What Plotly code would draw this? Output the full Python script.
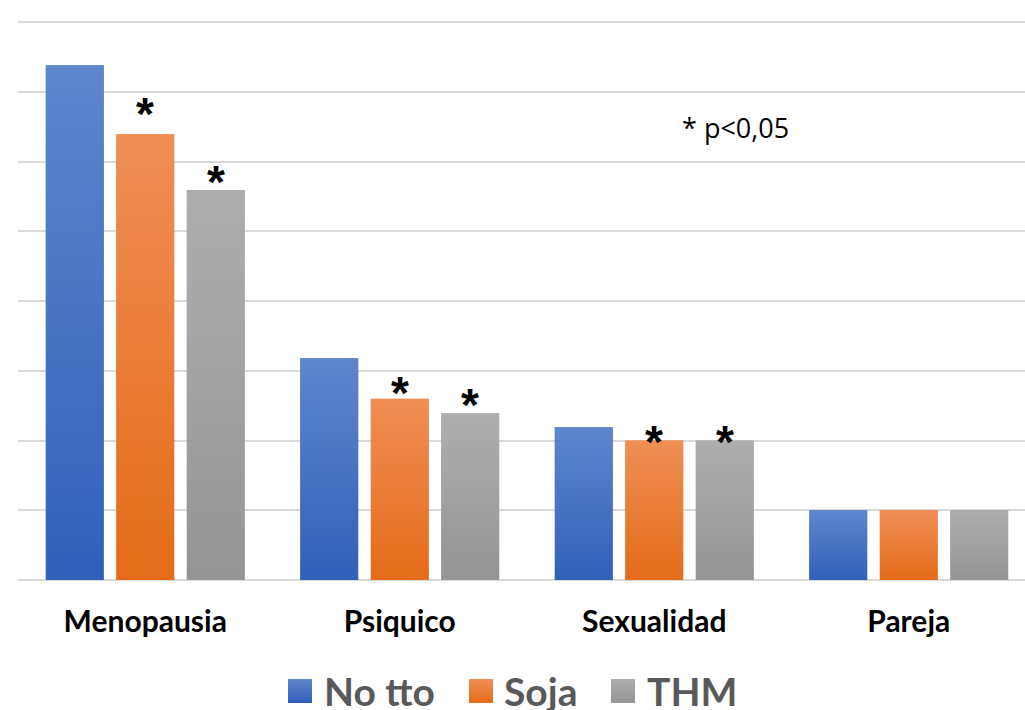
import base64
import plotly.graph_objects as go

# ---------------- data ----------------
categories = ["Menopausia", "Psiquico", "Sexualidad", "Pareja"]
series_names = ["No tto", "Soja", "THM"]
no_tto = [7.38, 3.18, 2.19, 1.00]
soja = [6.39, 2.60, 2.00, 1.00]
thm = [5.59, 2.39, 2.00, 1.00]
# significance (p<0,05) flags per series
sig_no_tto = [False, False, False, False]
sig_soja = [True, True, True, False]
sig_thm = [True, True, True, False]
note_text = "* p<0,05"

# ---------------- styles ----------------
colors = ["#4472C4", "#ED7D31", "#A5A5A5"]
grad_top = ["#5F86CD", "#F08E55", "#AEAEAE"]
grad_bot = ["#2F60BA", "#E46C19", "#959595"]
centers = [-0.277, 0.0, 0.277]
bar_w = 0.228
W, H = 1025, 710
ML, MR, MT, MB = 18, 0, 20, 130
PLOT_H = H - MT - MB
px_per_unit = 69.75
y_top = PLOT_H / px_per_unit
px_per_cat = 254.5
x_right = -0.5 + (W - ML - MR) / px_per_cat
# asterisk vertical shift (px) per series/category
star_shift = {
    1: [20, 6, -1],
    2: [8, 8, -1],
}


def grad_uri(top, bot):
    svg = ("<svg xmlns='http://www.w3.org/2000/svg' width='10' height='100' "
           "preserveAspectRatio='none' viewBox='0 0 10 100'>"
           "<defs><linearGradient id='g' x1='0' y1='0' x2='0' y2='1'>"
           f"<stop offset='0' stop-color='{top}'/><stop offset='1' stop-color='{bot}'/>"
           "</linearGradient></defs><rect width='10' height='100' fill='url(#g)'/></svg>")
    return "data:image/svg+xml;base64," + base64.b64encode(svg.encode()).decode()


series_vals = [no_tto, soja, thm]
series_sig = [sig_no_tto, sig_soja, sig_thm]

fig = go.Figure()
images = []
for k, (name, vals) in enumerate(zip(series_names, series_vals)):
    fig.add_trace(go.Bar(
        x=categories, y=vals, name=name,
        marker=dict(color=colors[k], line=dict(width=0)),
        width=bar_w, offset=centers[k] - bar_w / 2,
        showlegend=False,
    ))
    src = grad_uri(grad_top[k], grad_bot[k])
    for i, v in enumerate(vals):
        images.append(dict(
            source=src, xref="x", yref="y",
            x=i + centers[k] - bar_w / 2, y=v, sizex=bar_w, sizey=v,
            xanchor="left", yanchor="top", sizing="stretch", layer="above",
        ))

annotations = []
for k in range(3):
    for i, flag in enumerate(series_sig[k]):
        if flag:
            annotations.append(dict(
                x=i + centers[k], y=series_vals[k][i], xref="x", yref="y",
                text="<b>*</b>", showarrow=False, yanchor="middle",
                yshift=star_shift[k][i],
                font=dict(family="Liberation Sans", size=46, color="#000000"),
            ))

pw = W - ML - MR


def py(px_y):
    return (H - MB - px_y) / PLOT_H


annotations.append(dict(
    x=(735 - ML) / pw, y=py(128), xref="paper", yref="paper",
    text=note_text, showarrow=False, xanchor="center", yanchor="middle",
    font=dict(family="Open Sans", size=27, color="#000000"),
))

# custom legend
leg_sq_x = [300, 481, 623]
leg_txt_x = [322, 502, 645]
leg_y = py(691)
for k, name in enumerate(series_names):
    xp = (leg_sq_x[k] - ML) / pw
    images.append(dict(
        source=grad_uri(grad_top[k], grad_bot[k]), xref="paper", yref="paper",
        x=xp - 12 / pw, y=leg_y + 12 / PLOT_H,
        sizex=24 / pw, sizey=24 / PLOT_H,
        xanchor="left", yanchor="top", sizing="stretch", layer="above",
    ))
    annotations.append(dict(
        x=(leg_txt_x[k] - ML) / pw, y=leg_y, xref="paper", yref="paper",
        text="<b>" + name + "</b>", showarrow=False, xanchor="left", yanchor="middle",
        font=dict(family="Lato", size=39, color="#595959"),
    ))

fig.update_layout(
    width=W, height=H,
    margin=dict(l=ML, r=MR, t=MT, b=MB),
    plot_bgcolor="#FFFFFF", paper_bgcolor="#FFFFFF",
    barmode="overlay",
    annotations=annotations, images=images,
    xaxis=dict(
        type="category", range=[-0.5, x_right], showgrid=False, zeroline=False,
        showline=False, ticks="", ticklabelstandoff=21,
        tickfont=dict(family="Lato", size=30, color="#000000"),
        tickvals=categories, ticktext=["<b>" + c + "</b>" for c in categories],
    ),
    yaxis=dict(
        range=[0, y_top], tick0=0, dtick=1, showgrid=True, gridcolor="#D9D9D9", gridwidth=2,
        zeroline=True, zerolinecolor="#D9D9D9", zerolinewidth=2,
        showticklabels=False, ticks="", showline=False,
    ),
    showlegend=False,
    hovermode=False,
)

fig.write_html("out.html", config={"displayModeBar": False},
               post_script="document.body.style.margin='0';")
